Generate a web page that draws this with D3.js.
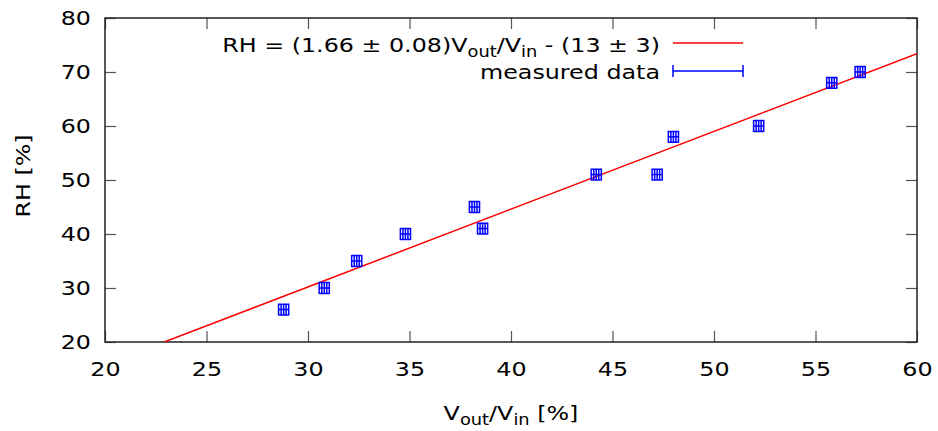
<!DOCTYPE html>
<html>
<head>
<meta charset="utf-8">
<script src="https://cdn.jsdelivr.net/npm/d3@7"></script>
<style>
  body { margin: 0; background: #fff; }
  svg { display: block; font-family: "DejaVu Sans", sans-serif; }
</style>
</head>
<body>
<svg id="chart" width="938" height="431"></svg>
<script>
// measured data (V_out/V_in in %, RH in %)
const vout = [28.8, 30.8, 32.4, 34.8, 38.2, 38.6, 44.2, 47.2, 48.0, 52.2, 55.8, 57.2];
const rh = [26, 30, 35, 40, 45, 41, 51, 51, 58, 60, 68, 70];
const voutErr = 0.25;
const rhErr = 1;

// fitted line as drawn
const fitSlope = 1.44;
const fitIntercept = -13.0;

const xTicks = [20, 25, 30, 35, 40, 45, 50, 55, 60];
const yTicks = [20, 30, 40, 50, 60, 70, 80];

const svg = d3.select("#chart");
const margin = { left: 105, right: 21, top: 18, bottom: 89 };
const width = 938, height = 431;
const S = 1.19; // the font in the picture is wider than DejaVu

const x = d3.scaleLinear().domain([20, 60]).range([margin.left, width - margin.right]);
const y = d3.scaleLinear().domain([20, 80]).range([height - margin.bottom, margin.top]);

const tickLen = 11;

// widen text along its baseline
function stretch(sel) {
  sel.each(function () {
    const t = d3.select(this);
    const tx = +t.attr("x") || 0, ty = +t.attr("y") || 0;
    t.attr("x", 0).attr("y", 0).attr("transform", `translate(${tx},${ty}) scale(${S},1)`);
  });
}

// --- AXES ---
svg.append("g")
  .attr("transform", `translate(0,${y(20)})`)
  .call(d3.axisBottom(x).tickValues(xTicks).tickSize(-tickLen).tickPadding(20))
  .call(g => g.select(".domain").remove());

svg.append("g")
  .attr("transform", `translate(0,${y(80)})`)
  .call(d3.axisTop(x).tickValues(xTicks).tickSize(-tickLen).tickFormat(""))
  .call(g => g.select(".domain").remove());

svg.append("g")
  .attr("transform", `translate(${x(20)},0)`)
  .call(d3.axisLeft(y).tickValues(yTicks).tickSize(-tickLen).tickPadding(14))
  .call(g => g.select(".domain").remove());

svg.append("g")
  .attr("transform", `translate(${x(60)},0)`)
  .call(d3.axisRight(y).tickValues(yTicks).tickSize(-tickLen).tickFormat(""))
  .call(g => g.select(".domain").remove());

svg.selectAll(".tick line").attr("stroke", "#555").attr("stroke-width", 1.2);
svg.selectAll(".tick text").attr("font-size", 20).attr("fill", "#000")
  .attr("font-family", "DejaVu Sans, sans-serif")
  .call(stretch);

// frame
svg.append("rect")
  .attr("x", x(20)).attr("y", y(80))
  .attr("width", x(60) - x(20)).attr("height", y(20) - y(80))
  .attr("fill", "none").attr("stroke", "#222").attr("stroke-width", 1.5);

// --- AXIS LABELS ---
svg.append("text")
  .attr("transform", `translate(30,176) rotate(-90) scale(${S},1)`)
  .attr("text-anchor", "middle")
  .attr("font-size", 20)
  .text("RH [%]");

const xl = svg.append("text")
  .attr("x", (x(20) + x(60)) / 2)
  .attr("y", 420)
  .attr("text-anchor", "middle")
  .attr("font-size", 20);
xl.append("tspan").text("V");
xl.append("tspan").attr("dy", 5).attr("font-size", 15).text("out");
xl.append("tspan").attr("dy", -5).text("/V");
xl.append("tspan").attr("dy", 5).attr("font-size", 15).text("in");
xl.append("tspan").attr("dy", -5).text(" [%]");
stretch(xl);

// --- FIT LINE ---
svg.append("clipPath").attr("id", "plotclip")
  .append("rect")
  .attr("x", x(20)).attr("y", y(80))
  .attr("width", x(60) - x(20)).attr("height", y(20) - y(80));

const x0 = (20 - fitIntercept) / fitSlope;
svg.append("line")
  .attr("clip-path", "url(#plotclip)")
  .attr("x1", x(x0)).attr("y1", y(fitSlope * x0 + fitIntercept))
  .attr("x2", x(60)).attr("y2", y(fitSlope * 60 + fitIntercept))
  .attr("stroke", "#ff0000").attr("stroke-width", 1.5);

// --- ERROR BARS ---
const pts = vout.map((v, i) => ({ x: v, y: rh[i] }));
const capH = 5, capV = 6;
const eb = svg.append("g").attr("stroke", "#0000ff").attr("stroke-width", 1.5).attr("fill", "none");
pts.forEach(d => {
  const cx = x(d.x), cy = y(d.y);
  const xl0 = x(d.x - voutErr), xr0 = x(d.x + voutErr);
  const yt = y(d.y + rhErr), yb = y(d.y - rhErr);
  eb.append("path").attr("d",
    `M${xl0},${cy}H${xr0}` +
    `M${xl0},${cy - capV}V${cy + capV}` +
    `M${xr0},${cy - capV}V${cy + capV}` +
    `M${cx},${yt}V${yb}` +
    `M${cx - capH},${yt}H${cx + capH}` +
    `M${cx - capH},${yb}H${cx + capH}` +
    `M${cx - 2.5},${cy - capV}V${cy + capV}` +
    `M${cx + 2.5},${cy - capV}V${cy + capV}`);
});

// --- LEGEND ---
const legRight = 660, sampleX1 = 673, sampleX2 = 743;
const l1 = svg.append("text")
  .attr("x", legRight).attr("y", 52)
  .attr("text-anchor", "end").attr("font-size", 20);
l1.append("tspan").text("RH = (1.66 ± 0.08)V");
l1.append("tspan").attr("dy", 5).attr("font-size", 15).text("out");
l1.append("tspan").attr("dy", -5).text("/V");
l1.append("tspan").attr("dy", 5).attr("font-size", 15).text("in");
l1.append("tspan").attr("dy", -5).text(" - (13 ± 3)");
stretch(l1);

svg.append("line")
  .attr("x1", sampleX1).attr("x2", sampleX2).attr("y1", 43).attr("y2", 43)
  .attr("stroke", "#ff0000").attr("stroke-width", 1.5);

const l2 = svg.append("text")
  .attr("x", legRight).attr("y", 79)
  .attr("text-anchor", "end").attr("font-size", 20)
  .text("measured data");
stretch(l2);

svg.append("path")
  .attr("d", `M${sampleX1},71H${sampleX2}M${sampleX1},65V77M${sampleX2},65V77`)
  .attr("stroke", "#0000ff").attr("stroke-width", 1.5).attr("fill", "none");
</script>
</body>
</html>
